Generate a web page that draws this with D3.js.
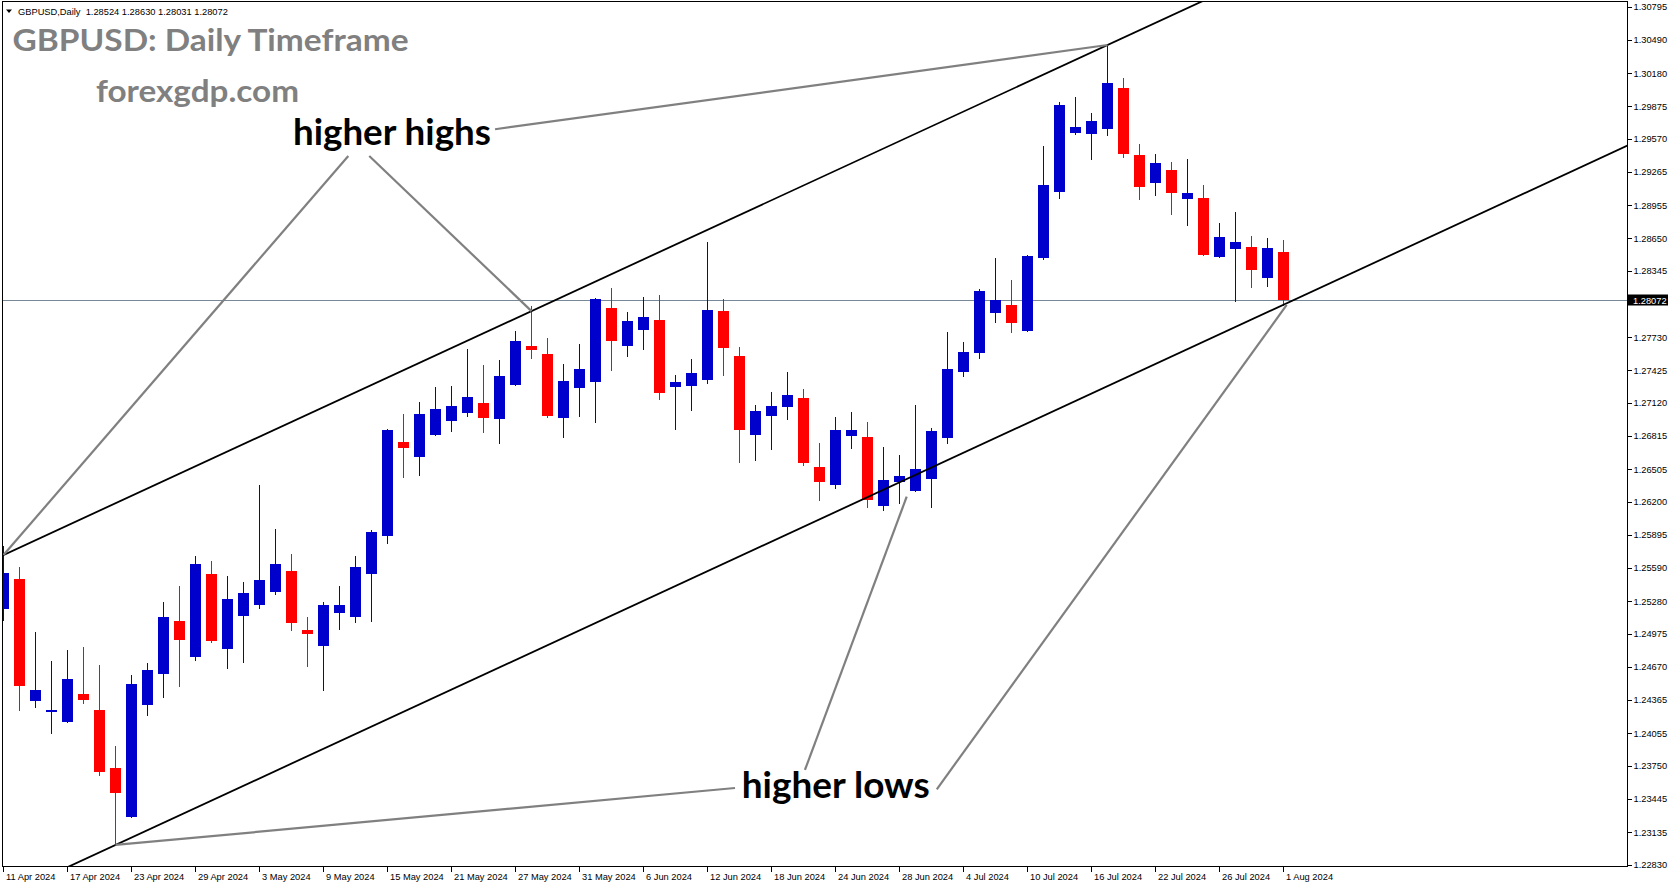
<!DOCTYPE html>
<html>
<head>
<meta charset="utf-8">
<script src="https://cdn.jsdelivr.net/npm/d3@7"></script>
<style>
html,body{margin:0;padding:0;background:#fff;overflow:hidden}
svg{display:block}
</style>
</head>
<body>
<svg id="chart" width="1673" height="888"></svg>
<script>
// ---------------- DATA ----------------
const symbol = "GBPUSD";
const timeframe = "Daily";
const dates = [
  "2024-04-11","2024-04-12","2024-04-15","2024-04-16","2024-04-17","2024-04-18","2024-04-19","2024-04-22","2024-04-23","2024-04-24",
  "2024-04-25","2024-04-26","2024-04-29","2024-04-30","2024-05-01","2024-05-02","2024-05-03","2024-05-06","2024-05-07","2024-05-08",
  "2024-05-09","2024-05-10","2024-05-13","2024-05-14","2024-05-15","2024-05-16","2024-05-17","2024-05-20","2024-05-21","2024-05-22",
  "2024-05-23","2024-05-24","2024-05-27","2024-05-28","2024-05-29","2024-05-30","2024-05-31","2024-06-03","2024-06-04","2024-06-05",
  "2024-06-06","2024-06-07","2024-06-10","2024-06-11","2024-06-12","2024-06-13","2024-06-14","2024-06-17","2024-06-18","2024-06-19",
  "2024-06-20","2024-06-21","2024-06-24","2024-06-25","2024-06-26","2024-06-27","2024-06-28","2024-07-01","2024-07-02","2024-07-03",
  "2024-07-04","2024-07-05","2024-07-08","2024-07-09","2024-07-10","2024-07-11","2024-07-12","2024-07-15","2024-07-16","2024-07-17",
  "2024-07-18","2024-07-19","2024-07-22","2024-07-23","2024-07-24","2024-07-25","2024-07-26","2024-07-29","2024-07-30","2024-07-31",
  "2024-08-01"
];
const open = [
  1.25207,1.25485,1.24355,1.24253,1.24161,1.24418,1.24269,1.23731,1.23279,1.24318,
  1.24606,1.25095,1.24764,1.25532,1.24838,1.25145,1.25247,1.25367,1.25559,1.25012,
  1.24866,1.25172,1.25135,1.25534,1.25887,1.26757,1.26621,1.26825,1.26955,1.27029,
  1.27119,1.26973,1.27289,1.27648,1.27574,1.26983,1.27261,1.27317,1.28001,1.27651,
  1.27799,1.27889,1.27270,1.27280,1.27335,1.27973,1.27555,1.26825,1.27001,1.27085,
  1.27165,1.26522,1.26361,1.26815,1.26803,1.26166,1.26388,1.26305,1.26416,1.26797,
  1.27410,1.27586,1.27957,1.28029,1.27790,1.28468,1.29081,1.29628,1.29619,1.29665,
  1.30043,1.29421,1.29161,1.29282,1.29015,1.29022,1.28477,1.28551,1.28567,1.28282,
  1.28524
];
const high = [
  1.25792,1.25599,1.24996,1.24724,1.24826,1.24854,1.24687,1.23935,1.24594,1.24703,
  1.25274,1.25420,1.25699,1.25649,1.25513,1.25457,1.26358,1.25949,1.25717,1.25132,
  1.25274,1.25420,1.25699,1.25940,1.26878,1.27017,1.27128,1.27268,1.27277,1.27620,
  1.27472,1.27518,1.27787,1.28019,1.27722,1.27481,1.27667,1.28094,1.28187,1.27964,
  1.28103,1.28122,1.27379,1.27527,1.28614,1.28084,1.27639,1.27103,1.27221,1.27407,
  1.27249,1.26748,1.26989,1.27035,1.26943,1.26711,1.26636,1.27103,1.26887,1.27778,
  1.27685,1.28177,1.28465,1.28261,1.28493,1.29508,1.29916,1.29960,1.29811,1.30442,
  1.30136,1.29523,1.29430,1.29356,1.29387,1.29143,1.28790,1.28892,1.28669,1.28651,
  1.28630
];
const low = [
  1.25105,1.24269,1.24300,1.24058,1.24158,1.24337,1.23666,1.23016,1.23276,1.24225,
  1.24393,1.24495,1.24733,1.24903,1.24662,1.24717,1.25219,1.25349,1.25012,1.24680,
  1.24455,1.25021,1.25089,1.25098,1.25822,1.26435,1.26453,1.26822,1.26862,1.27001,
  1.26853,1.26750,1.27285,1.27540,1.26992,1.26806,1.27001,1.26945,1.27428,1.27558,
  1.27623,1.27159,1.26880,1.27057,1.27307,1.27382,1.26574,1.26593,1.26695,1.26973,
  1.26546,1.26221,1.26333,1.26704,1.26156,1.26129,1.26191,1.26300,1.26156,1.26750,
  1.27372,1.27540,1.27874,1.27781,1.27785,1.28460,1.29025,1.29619,1.29387,1.29610,
  1.29405,1.29015,1.29053,1.28876,1.28774,1.28490,1.28470,1.28069,1.28199,1.28208,
  1.28031
];
const close = [
  1.25538,1.24495,1.24455,1.24269,1.24557,1.24365,1.23696,1.23501,1.24510,1.24640,
  1.25132,1.24922,1.25624,1.24912,1.25300,1.25355,1.25476,1.25624,1.25080,1.24977,
  1.25244,1.25244,1.25597,1.25921,1.26868,1.26704,1.27017,1.27063,1.27091,1.27175,
  1.26983,1.27370,1.27695,1.27614,1.27001,1.27323,1.27435,1.28084,1.27697,1.27880,
  1.27917,1.27215,1.27314,1.27397,1.27982,1.27632,1.26871,1.27045,1.27091,1.27193,
  1.26565,1.26388,1.26868,1.26868,1.26221,1.26404,1.26441,1.26506,1.26859,1.27435,
  1.27592,1.28159,1.28075,1.27864,1.28484,1.29143,1.29885,1.29681,1.29737,1.30090,
  1.29433,1.29127,1.29347,1.29071,1.29068,1.28496,1.28660,1.28614,1.28356,1.28558,
  1.28072
];
const yTickLabels = [
  "1.30795","1.30490","1.30180","1.29875","1.29570","1.29265","1.28955","1.28650","1.28345",
  "1.27730","1.27425","1.27120","1.26815","1.26505","1.26200","1.25895","1.25590","1.25280","1.24975",
  "1.24670","1.24365","1.24055","1.23750","1.23445","1.23135","1.22830"
];
const xTickEvery = 4;
// channel trend lines: [barIndex1, price1, barIndex2, price2]
const channelLines = [
  [0, 1.25708, 69, 1.30442],
  [7, 1.23016, 80, 1.28031]
];
// annotation pointer lines: [barIndex1, price1, barIndex2, price2]
const annotationLinks = [
  [30.72, 1.29660, 69, 1.30442],
  [21.55, 1.29412, 0, 1.25708],
  [22.86, 1.29412, 33, 1.27972],
  [45.72, 1.23545, 7, 1.23016],
  [50.09, 1.23712, 56.45, 1.26249],
  [58.33, 1.23533, 80.2, 1.28029]
];
const annotationTexts = ["higher highs", "higher lows"];
const annotationAnchors = [[18.09, 1.29514], [46.14, 1.23455]];
const titleText = "GBPUSD: Daily Timeframe";
const siteText = "forexgdp.com";

// ---------------- LAYOUT ----------------
const W = 1673, H = 888;
const plot = {left: 2, top: 2, right: 1627, bottom: 866};
const BULL = "#0000CD", BEAR = "#FF0000";
const smallFont = "'Liberation Sans', Arial, sans-serif";
const bigFont = "Lato, 'Open Sans', sans-serif";

const svg = d3.select("#chart");
svg.append("rect").attr("width", W).attr("height", H).attr("fill", "#fff");

const x = d3.scaleLinear().domain([0, 80]).range([3.5, 3.5 + 16 * 80]);
const y = d3.scaleLinear().domain([1.22830, 1.30795]).range([865, 7]);

svg.append("defs").append("clipPath").attr("id", "plotclip")
  .append("rect").attr("x", plot.left).attr("y", plot.top)
  .attr("width", plot.right - plot.left).attr("height", plot.bottom - plot.top);

const g = svg.append("g").attr("clip-path", "url(#plotclip)");

// current price line
const lastClose = close[close.length - 1];
const py = Math.round(y(lastClose)) + 0.5;
g.append("line").attr("x1", plot.left).attr("x2", plot.right)
  .attr("y1", py).attr("y2", py)
  .attr("stroke", "#778899").attr("stroke-width", 1).attr("shape-rendering", "crispEdges");

// candles
const bars = d3.range(dates.length).map(i => ({i, o: open[i], h: high[i], l: low[i], c: close[i]}));
const cg = g.append("g").attr("shape-rendering", "crispEdges");
const cand = cg.selectAll("g.c").data(bars).join("g").attr("class", "c");
cand.append("line")
  .attr("x1", d => Math.round(x(d.i) - 0.5) + 0.5)
  .attr("x2", d => Math.round(x(d.i) - 0.5) + 0.5)
  .attr("y1", d => Math.round(y(d.h)))
  .attr("y2", d => Math.round(y(d.l)) + 1)
  .attr("stroke", d => d.c >= d.o ? BULL : BEAR).attr("stroke-width", 1);
cand.append("rect")
  .attr("x", d => Math.round(x(d.i) - 5.5))
  .attr("width", 11)
  .attr("y", d => Math.round(y(Math.max(d.o, d.c))))
  .attr("height", d => Math.max(1, Math.round(y(Math.min(d.o, d.c))) - Math.round(y(Math.max(d.o, d.c)))))
  .attr("fill", d => d.c >= d.o ? BULL : BEAR);

// channel lines (extended)
const extend = (l, i) => l[1] + (l[3] - l[1]) * (i - l[0]) / (l[2] - l[0]);
channelLines.forEach(l => {
  g.append("line")
    .attr("x1", x(-10)).attr("y1", y(extend(l, -10)))
    .attr("x2", x(120)).attr("y2", y(extend(l, 120)))
    .attr("stroke", "#000").attr("stroke-width", 1.8);
});

// annotation links
annotationLinks.forEach(l => {
  g.append("line")
    .attr("x1", x(l[0])).attr("y1", y(l[1]))
    .attr("x2", x(l[2])).attr("y2", y(l[3]))
    .attr("stroke", "#808080").attr("stroke-width", 2.2);
});

// annotation texts
const annWidths = [198, 188];
annotationTexts.forEach((t, k) => {
  g.append("text")
    .attr("x", x(annotationAnchors[k][0])).attr("y", y(annotationAnchors[k][1]))
    .attr("font-family", bigFont).attr("font-weight", 700).attr("font-size", 36)
    .attr("fill", "#000")
    .attr("textLength", annWidths[k]).attr("lengthAdjust", "spacingAndGlyphs")
    .text(t);
});

// title texts
svg.append("text").attr("x", 12.5).attr("y", 50.7)
  .attr("font-family", bigFont).attr("font-weight", 700).attr("font-size", 30)
  .attr("fill", "#808080").attr("textLength", 396).attr("lengthAdjust", "spacingAndGlyphs")
  .text(titleText);
svg.append("text").attr("x", 96).attr("y", 101.7)
  .attr("font-family", bigFont).attr("font-weight", 700).attr("font-size", 30)
  .attr("fill", "#808080").attr("textLength", 203).attr("lengthAdjust", "spacingAndGlyphs")
  .text(siteText);

// header
svg.append("path").attr("d", "M6,9.5 L12,9.5 L9,13 Z").attr("fill", "#000");
svg.append("text").attr("x", 18).attr("y", 14.5)
  .attr("font-family", smallFont).attr("font-size", 9.3).attr("fill", "#000")
  .style("white-space", "pre")
  .text(symbol + "," + timeframe + "  " + [open, high, low, close].map(a => a[a.length - 1].toFixed(5)).join(" "));

// frame
svg.append("rect").attr("x", plot.left + 0.5).attr("y", plot.top - 0.5)
  .attr("width", plot.right - plot.left).attr("height", plot.bottom - plot.top + 1)
  .attr("fill", "none").attr("stroke", "#000").attr("stroke-width", 1)
  .attr("shape-rendering", "crispEdges");

// y axis
const yAxis = d3.axisRight(y)
  .tickValues(yTickLabels.map(Number))
  .tickFormat((d, k) => yTickLabels[k])
  .tickSize(4).tickPadding(2);
const ya = svg.append("g").attr("transform", `translate(${plot.right + 0.5},0)`).call(yAxis);
ya.select(".domain").remove();
ya.selectAll("line").attr("stroke", "#000").attr("shape-rendering", "crispEdges");
ya.selectAll("text").attr("font-family", smallFont).attr("font-size", 9.3).attr("fill", "#000");

// x axis
const parse = d3.timeParse("%Y-%m-%d");
const fmt = d3.timeFormat("%-d %b %Y");
const xAxis = d3.axisBottom(x)
  .tickValues(d3.range(0, dates.length, xTickEvery))
  .tickFormat(i => fmt(parse(dates[i])))
  .tickSize(5).tickPadding(2);
const xa = svg.append("g").attr("transform", `translate(0,${plot.bottom + 0.5})`).call(xAxis);
xa.select(".domain").remove();
xa.selectAll("line").attr("stroke", "#000").attr("shape-rendering", "crispEdges")
  .attr("transform", "translate(-0.5,0)");
xa.selectAll("text").attr("font-family", smallFont).attr("font-size", 9.3).attr("fill", "#000")
  .attr("text-anchor", "start").attr("dx", 2);

// current price label
svg.append("rect").attr("x", plot.right + 1).attr("y", py - 6)
  .attr("width", 40).attr("height", 11).attr("fill", "#000");
svg.append("text").attr("x", plot.right + 6).attr("y", py + 3.3)
  .attr("font-family", smallFont).attr("font-size", 9.3).attr("fill", "#fff")
  .text(lastClose.toFixed(5));
</script>
</body>
</html>
